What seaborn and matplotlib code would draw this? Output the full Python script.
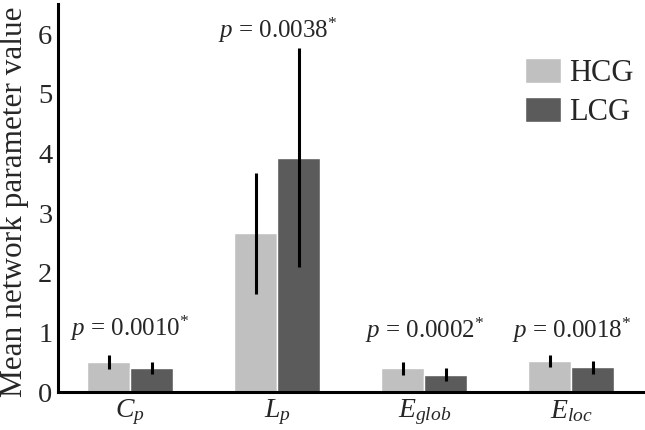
import matplotlib
matplotlib.use('Agg')
from matplotlib import pyplot as plt
from matplotlib.patches import Patch
import seaborn as sns
import pandas as pd
import numpy as np

# values
metrics = [r'$C_p$', r'$L_p$', r'$E_{glob}$', r'$E_{loc}$']
groups = ['HCG', 'LCG']
hcg_mean = [0.50, 2.66, 0.40, 0.52]
hcg_err = [0.12, 1.02, 0.11, 0.10]
lcg_mean = [0.40, 3.93, 0.29, 0.42]
lcg_err = [0.10, 1.84, 0.11, 0.11]
p_labels = ['0.0010', '0.0038', '0.0002', '0.0018']
p_heights = [1.07, 6.06, 1.04, 1.04]
colors = ['#c0c0c0', '#5b5b5b']

df = pd.DataFrame({
    'metric': metrics * 2,
    'group': ['HCG'] * 4 + ['LCG'] * 4,
    'value': hcg_mean + lcg_mean,
})

sns.set_style('white')
plt.rcParams['font.family'] = ['Liberation Serif', 'DejaVu Serif']
plt.rcParams['mathtext.fontset'] = 'custom'
plt.rcParams['mathtext.rm'] = 'Liberation Serif'
plt.rcParams['mathtext.it'] = 'Liberation Serif:italic'

fig = plt.figure(figsize=(6.45, 4.3), dpi=100)
ax = fig.add_axes([0.09, 0.088, 0.91, 0.902])
sns.barplot(data=df, x='metric', y='value', hue='group', order=metrics,
            hue_order=groups, palette=colors, width=0.585, errorbar=None,
            saturation=1, ax=ax, legend=False, zorder=2)

# error bars at the bar centres
for cont, errs in zip(ax.containers, [hcg_err, lcg_err]):
    xs = [b.get_x() + b.get_width() / 2 for b in cont]
    ys = [b.get_height() for b in cont]
    ax.errorbar(xs, ys, yerr=errs, fmt='none', ecolor='black',
                elinewidth=2.2, capsize=0, zorder=3)

# p-values
for i, (lab, h) in enumerate(zip(p_labels, p_heights)):
    ax.text(i, h, r'$p$ = ' + lab + r'$^{*}$', ha='center', va='center',
            fontsize=18)

ax.set_xlim(-0.49, 3.5)
ax.set_ylim(0, 6.5)
ax.set_yticks(range(7))
ax.set_xlabel('')
ax.set_ylabel('Mean network parameter value', fontsize=22.5)
ax.yaxis.set_label_coords(-0.05, 0.49)
ax.tick_params(axis='y', length=0, labelsize=20.5, pad=4)
ax.tick_params(axis='x', length=0, labelsize=20, pad=4)
for s in ['top', 'right']:
    ax.spines[s].set_visible(False)
for s in ['left', 'bottom']:
    ax.spines[s].set_color('black')
    ax.spines[s].set_linewidth(2.2)

handles = [Patch(facecolor=c, label=g) for c, g in zip(colors, groups)]
fig.legend(handles=handles, loc='upper left', bbox_to_anchor=(0.79, 0.9),
           frameon=False, fontsize=22, handlelength=1.2, handleheight=0.85,
           handletextpad=0.25, labelspacing=0.3, borderpad=0)

fig.savefig('out.png', dpi=100)
